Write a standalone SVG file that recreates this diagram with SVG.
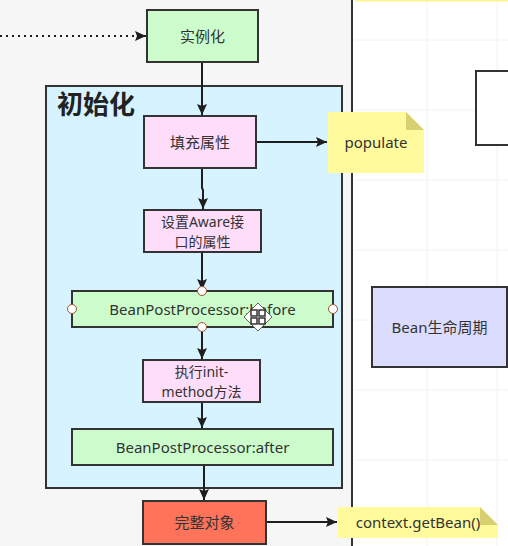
<svg xmlns="http://www.w3.org/2000/svg" width="508" height="546" viewBox="0 0 508 546">
<defs>
<marker id="ah" markerWidth="12" markerHeight="12" refX="11" refY="5.5" orient="auto" markerUnits="userSpaceOnUse">
<path d="M0,0.5 L11,5.5 L0,10.5 L2,5.5 Z" fill="#1e1e1e"/>
</marker>
<style>
.t{font-family:"Noto Sans","Noto Sans CJK SC",sans-serif;font-size:15px;fill:#333;text-anchor:middle;dominant-baseline:central}
.t2{font-size:14px}
.box{stroke:#333;stroke-width:2}
.g{fill:#ccfccc}
.p{fill:#fdddf9}
.note{fill:#fffa9c}
.fold{fill:#d8d070}
.c{stroke:#1e1e1e;stroke-width:2;fill:none}
.grid{stroke:#f2f2f2;stroke-width:1}
.h{fill:#fff;stroke:#a0522d;stroke-width:1}
</style>
</defs>
<rect x="0" y="0" width="508" height="546" fill="#fff"/>
<rect x="0" y="0" width="352" height="546" fill="#f6f6f6"/>
<g id="grid">
<line class="grid" x1="427" y1="0" x2="427" y2="546"/>
<line class="grid" x1="497" y1="0" x2="497" y2="546"/>
<line class="grid" x1="354" y1="40" x2="508" y2="40"/>
<line class="grid" x1="354" y1="110" x2="508" y2="110"/>
<line class="grid" x1="354" y1="180" x2="508" y2="180"/>
<line class="grid" x1="354" y1="250" x2="508" y2="250"/>
<line class="grid" x1="354" y1="320" x2="508" y2="320"/>
<line class="grid" x1="354" y1="390" x2="508" y2="390"/>
<line class="grid" x1="354" y1="460" x2="508" y2="460"/>
</g>
<line x1="355" y1="0.5" x2="508" y2="0.5" stroke="#fff48a" stroke-width="2"/>
<line x1="352" y1="0" x2="352" y2="546" stroke="#333" stroke-width="2"/>

<g id="init-container">
<rect x="46" y="86" width="296" height="402" fill="#d6f3ff" class="box"/>
<text x="57" y="114" font-family="'Noto Sans CJK SC',sans-serif" font-size="26" font-weight="bold" fill="#222">初始化</text>
</g>

<g id="connectors">
<line class="c" x1="0" y1="36" x2="146" y2="36" stroke-dasharray="2,4" marker-end="url(#ah)"/>
<line class="c" x1="202" y1="62" x2="202" y2="115" marker-end="url(#ah)"/>
<line class="c" x1="256" y1="142" x2="327" y2="142" marker-end="url(#ah)"/>
<polyline class="c" points="202,168 202,188 203,190 203,209" marker-end="url(#ah)"/>
<line class="c" x1="202" y1="252" x2="202" y2="290" marker-end="url(#ah)"/>
<line class="c" x1="202" y1="327" x2="202" y2="359" marker-end="url(#ah)"/>
<line class="c" x1="202" y1="402" x2="202" y2="428" marker-end="url(#ah)"/>
<line class="c" x1="204" y1="465" x2="204" y2="500" marker-end="url(#ah)"/>
<line class="c" x1="266" y1="522" x2="337" y2="522" marker-end="url(#ah)"/>
</g>

<g id="instantiate">
<rect x="147" y="10" width="111" height="52" class="box g"/>
<text x="202.5" y="36" class="t">实例化</text>
</g>

<g id="populate-props">
<rect x="144" y="116" width="112" height="52" class="box p"/>
<text x="200" y="142" class="t">填充属性</text>
</g>

<g id="populate-note">
<path d="M328,112 H406 L424,130 V173 H328 Z" class="note"/>
<path d="M406,112 L424,130 H406 Z" class="fold"/>
<text x="376" y="142" class="t">populate</text>
</g>

<g id="aware">
<rect x="144" y="210" width="117" height="42" class="box p"/>
<text x="202.5" y="221" class="t t2">设置Aware接</text>
<text x="202.5" y="241" class="t t2">口的属性</text>
</g>

<g id="bpp-before">
<rect x="72" y="291" width="261" height="36" class="box g"/>
<text x="202.5" y="309" class="t">BeanPostProcessor:before</text>
<circle cx="72" cy="309" r="4.5" class="h"/>
<circle cx="333" cy="309" r="4.5" class="h"/>
<circle cx="202" cy="291" r="4.5" class="h"/>
<circle cx="202" cy="327" r="4.5" class="h"/>
<g transform="translate(258,317)">
<path d="M0,-14 L14,0 L0,14 L-14,0 Z" fill="#fff" stroke="#666" stroke-width="1"/>
<rect x="-7" y="-7" width="6" height="6" fill="none" stroke="#333" stroke-width="1.5"/>
<rect x="1" y="-7" width="6" height="6" fill="none" stroke="#333" stroke-width="1.5"/>
<rect x="-7" y="1" width="6" height="6" fill="none" stroke="#333" stroke-width="1.5"/>
<rect x="1" y="1" width="6" height="6" fill="none" stroke="#333" stroke-width="1.5"/>
</g>
</g>

<g id="init-method">
<rect x="143" y="360" width="117" height="42" class="box p"/>
<text x="201.5" y="371" class="t t2">执行init-</text>
<text x="201.5" y="391" class="t t2">method方法</text>
</g>

<g id="bpp-after">
<rect x="72" y="429" width="261" height="36" class="box g"/>
<text x="202.5" y="447" class="t">BeanPostProcessor:after</text>
</g>

<g id="complete">
<rect x="143" y="501" width="123" height="43" class="box" fill="#ff735a"/>
<text x="204.5" y="522" class="t">完整对象</text>
</g>

<g id="getbean-note">
<path d="M338,507 H480 L498,525 V538 H338 Z" class="note"/>
<path d="M480,507 L498,525 H480 Z" class="fold"/>
<text x="418" y="522" class="t">context.getBean()</text>
</g>

<g id="outline-box">
<rect x="476" y="71" width="40" height="74" fill="#fff" class="box"/>
</g>

<g id="lifecycle">
<rect x="372" y="287" width="135" height="80" class="box" fill="#dcdcff"/>
<text x="439.5" y="327" class="t">Bean生命周期</text>
</g>
</svg>
